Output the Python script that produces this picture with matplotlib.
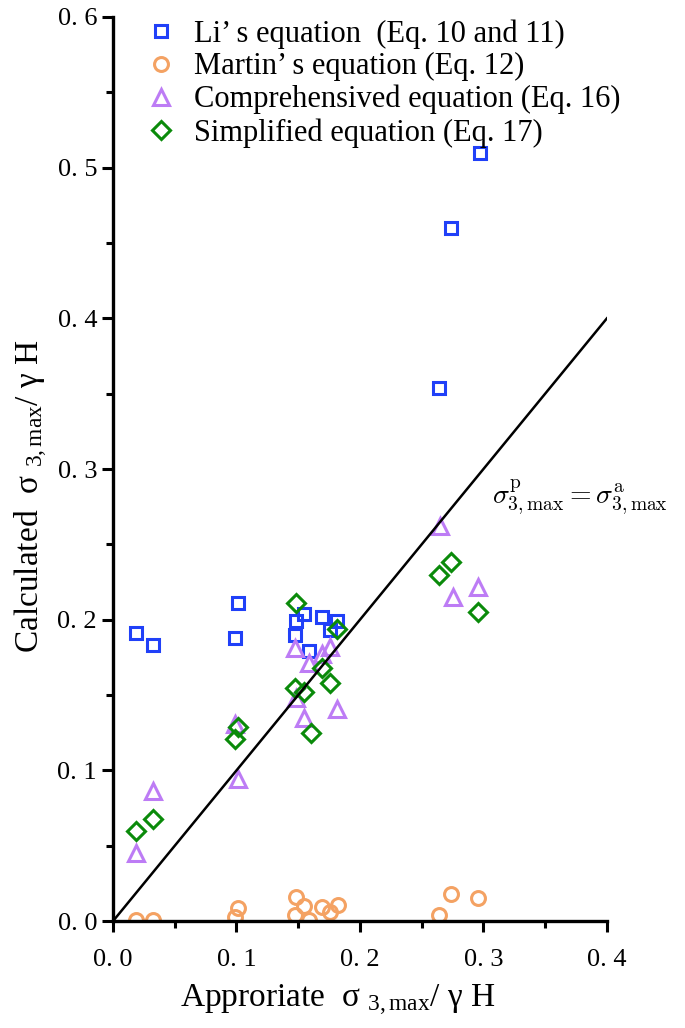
import numpy as np
import matplotlib
matplotlib.use("Agg")
import matplotlib.pyplot as plt

# ---- data ----
li_x = [0.019, 0.032, 0.099, 0.101, 0.147, 0.148, 0.155, 0.169, 0.181, 0.176, 0.159, 0.264, 0.274, 0.297]
li_y = [0.191, 0.183, 0.188, 0.211, 0.190, 0.199, 0.204, 0.202, 0.199, 0.193, 0.179, 0.354, 0.460, 0.510]

martin_x = [0.019, 0.032, 0.101, 0.099, 0.148, 0.155, 0.147, 0.159, 0.169, 0.176, 0.182, 0.274, 0.296, 0.264]
martin_y = [0.001, 0.001, 0.009, 0.003, 0.016, 0.010, 0.004, 0.001, 0.0095, 0.006, 0.011, 0.018, 0.015, 0.004]

comp_x = [0.019, 0.032, 0.101, 0.099, 0.147, 0.148, 0.155, 0.159, 0.169, 0.176, 0.181, 0.265, 0.275, 0.296]
comp_y = [0.045, 0.086, 0.094, 0.131, 0.181, 0.148, 0.135, 0.171, 0.177, 0.182, 0.141, 0.262, 0.215, 0.222]

simp_x = [0.019, 0.032, 0.099, 0.101, 0.148, 0.147, 0.155, 0.160, 0.169, 0.176, 0.181, 0.264, 0.274, 0.296]
simp_y = [0.060, 0.068, 0.121, 0.129, 0.211, 0.155, 0.152, 0.125, 0.168, 0.158, 0.194, 0.230, 0.238, 0.205]

labels = ["Li\u2019 s equation  (Eq. 10 and 11)",
          "Martin\u2019 s equation (Eq. 12)",
          "Comprehensived equation (Eq. 16)",
          "Simplified equation (Eq. 17)"]

plt.rcParams['font.family'] = ['Liberation Serif', 'DejaVu Serif']
plt.rcParams['mathtext.fontset'] = 'custom'
plt.rcParams['mathtext.rm'] = 'Liberation Serif'
plt.rcParams['mathtext.it'] = 'Liberation Serif:italic'

fig = plt.figure(figsize=(6.85, 10.28), dpi=100)
ax = fig.add_axes([0.165, 0.104, 0.721, 0.8795])

mk = dict(linestyle='none', markerfacecolor='none', markeredgewidth=2.2)
ax.plot(li_x, li_y, marker='s', markersize=9, color='#2040f8', label=labels[0], **mk)
ax.plot(martin_x, martin_y, marker='o', markersize=10, color='#f4a263', label=labels[1], **mk)
ax.plot(comp_x, comp_y, marker='^', markersize=11, color='#bd7cf5', label=labels[2], **mk)
ax.plot(simp_x, simp_y, marker='D', markersize=9.5, color='#0a8a0a', label=labels[3], **mk)

ax.plot([0, 0.4], [0, 0.4], color='black', lw=1.8)
ax.text(0.307, 0.281, r'$\sigma^{\mathrm{p}}_{3,\max}=\sigma^{\mathrm{a}}_{3,\max}$',
        fontsize=20, va='center', ha='left', math_fontfamily='cm')

ax.set_xlim(0, 0.4)
ax.set_ylim(0, 0.6)
ax.set_xticks(np.arange(0, 0.41, 0.1))
ax.set_yticks(np.arange(0, 0.61, 0.1))
ax.set_xticks(np.arange(0.05, 0.4, 0.1), minor=True)
ax.set_yticks(np.arange(0.05, 0.6, 0.1), minor=True)
ax.set_xticklabels(['0. 0', '0. 1', '0. 2', '0. 3', '0. 4'])
ax.set_yticklabels(['0. 0', '0. 1', '0. 2', '0. 3', '0. 4', '0. 5', '0. 6'])
ax.tick_params(which='major', direction='out', length=8, width=2.2, labelsize=19)
ax.tick_params(which='minor', direction='out', length=5, width=2.2)
ax.tick_params(axis='x', which='major', pad=12)

for s in ['top', 'right']:
    ax.spines[s].set_visible(False)
for s in ['left', 'bottom']:
    ax.spines[s].set_linewidth(2.4)

ax.set_xlabel('Approriate  \u03c3 $_{\\mathregular{3, max}}$/ \u03b3 H', fontsize=24)
ax.set_ylabel('Calculated  \u03c3 $_{\\mathregular{3, max}}$/ \u03b3 H', fontsize=24)
ax.xaxis.set_label_coords(0.455, -0.068)
ax.yaxis.set_label_coords(-0.128, 0.47)

ax.legend(loc='upper left', bbox_to_anchor=(0.03, 1.018), frameon=False, fontsize=22,
          handletextpad=0.55, labelspacing=0.12, handlelength=1.0, borderaxespad=0.2)

fig.savefig('out.png', dpi=100)
